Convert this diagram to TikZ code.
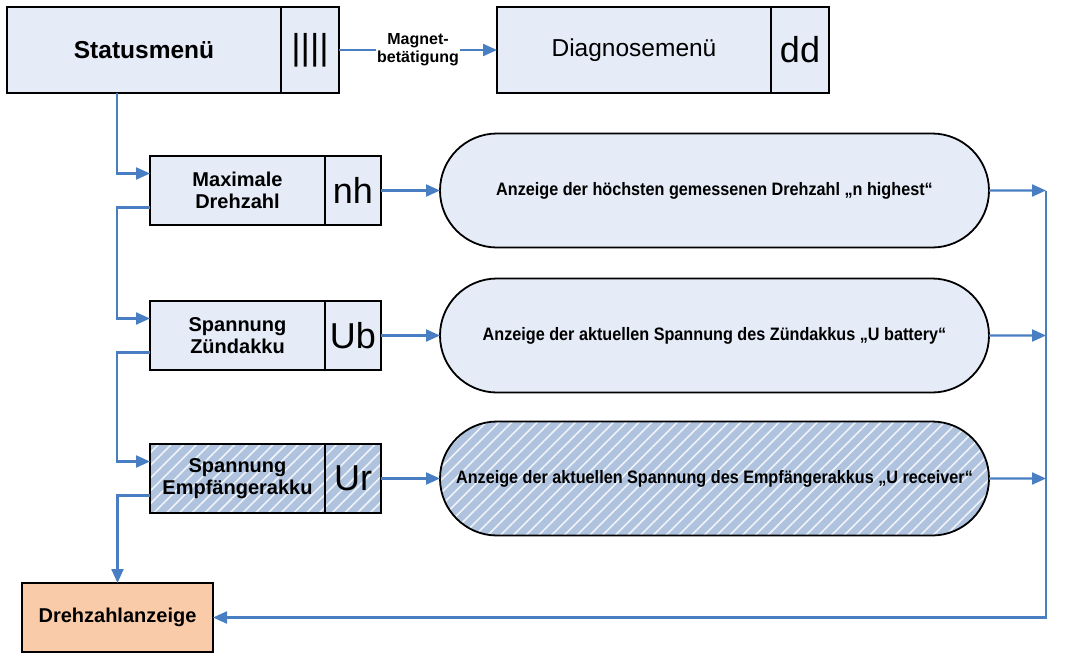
\documentclass[tikz,border=0pt]{standalone}
\usepackage{fontspec}
\setmainfont{Liberation Sans}
\usetikzlibrary{
  arrows.meta,
  positioning,
  shapes.misc,
  patterns.meta
}
\definecolor{dzFill}{HTML}{E5ECF7}
\definecolor{dzHatch}{HTML}{AFC3DF}
\definecolor{dzLine}{HTML}{4A7EC2}
\definecolor{dzOrange}{HTML}{F9CBA9}
\newcommand\dzBig{\fontsize{24.5}{28}\selectfont}
\newcommand\dzTag{\fontsize{36}{40}\selectfont}
\newcommand\dzLabel{\fontsize{20}{22}\selectfont\bfseries}
\newcommand\dzSmall{\fontsize{16}{18}\selectfont\bfseries}
\newcommand\dzTerm{\fontsize{18}{20}\selectfont\bfseries}
\newcommand\dzNarrow[1]{\scalebox{0.9}[1]{#1}}
\tikzset{
  dzbox/.style={
    draw, line width=1.8pt, fill=dzFill, inner sep=0pt, outer sep=0pt, align=center
  },
  menubox/.style={dzbox, minimum width=274pt, minimum height=86pt},
  menutag/.style={dzbox, minimum width=58pt, minimum height=86pt, font=\dzTag},
  subbox/.style={dzbox, minimum width=175pt, minimum height=69pt, font=\dzLabel},
  subtag/.style={dzbox, minimum width=56pt, minimum height=69pt, font=\dzTag},
  terminal/.style={
    dzbox, rounded rectangle, minimum width=549pt, minimum height=114pt, font=\dzTerm
  },
  hatched/.style={
    preaction={fill=dzHatch},
    pattern={Lines[angle=45, distance=9pt, line width=1.6pt]}, pattern color=white!80!dzHatch
  },
  result/.style={dzbox, fill=dzOrange, minimum width=191pt, minimum height=69pt, font=\dzLabel},
  flow/.style={-{Triangle[length=14pt, width=12pt]}, line width=2.2pt, dzLine},
  bus/.style={line width=2.2pt, dzLine},
  tag/.style={font=\dzSmall, text=black, fill=white, inner sep=1pt, align=center}
}
\begin{document}
\begin{tikzpicture}[x=1pt, y=-1pt, node distance=0pt]
  \useasboundingbox (0,0) rectangle (1076,654);
  % Menueebene
  \node[menubox, font=\dzBig\bfseries, anchor=north west] (stat) at (7,7) {Statusmenü};
  \node[menutag, right=of stat] (stattag) {||||};
  \node[menubox, font=\dzBig, anchor=north west] (diag) at (497,7) {Diagnosemenü};
  \node[menutag, right=of diag] (diagtag) {dd};
  % Anzeigen
  \node[subbox, anchor=north west] (maxd) at (150,156) {Maximale\\Drehzahl};
  \node[subtag, right=of maxd] (maxdtag) {nh};
  \node[subbox, anchor=north west] (spzu) at (150,301) {Spannung\\Zündakku};
  \node[subtag, right=of spzu] (spzutag) {Ub};
  \node[subbox, hatched, anchor=north west] (spem) at (150,444) {Spannung\\Empfängerakku};
  \node[subtag, hatched, right=of spem] (spemtag) {Ur};
  \node[terminal] (tmax) at (714.5,190.5) {\dzNarrow{Anzeige der höchsten gemessenen Drehzahl „n highest“}};
  \node[terminal] (tzu) at (714.5,335.5) {\dzNarrow{Anzeige der aktuellen Spannung des Zündakkus „U battery“}};
  \node[terminal, hatched] (tem) at (714.5,478.5) {\dzNarrow{Anzeige der aktuellen Spannung des Empfängerakkus „U receiver“}};
  \node[result, anchor=north west] (dza) at (22,583) {Drehzahlanzeige};
  \coordinate (lx) at (117,0);
  \coordinate (bx) at (1046,0);
  \coordinate (in1) at ([yshift=17pt]maxd.west);
  \coordinate (out1) at ([yshift=-17pt]maxd.west);
  \coordinate (in2) at ([yshift=17pt]spzu.west);
  \coordinate (out2) at ([yshift=-17pt]spzu.west);
  \coordinate (in3) at ([yshift=17pt]spem.west);
  \coordinate (out3) at ([yshift=-17pt]spem.west);
  % Verbindungen
  \draw[flow] (stattag) -- node[tag] {Magnet-\\betätigung} (diag);
  \draw[flow] (stat.south -| lx) |- (in1);
  \draw[flow] (out1) -| (lx |- in2) -- (in2);
  \draw[flow] (out2) -| (lx |- in3) -- (in3);
  \draw[flow] (out3) -| (dza.north);
  \draw[flow] (maxdtag) -- (tmax);
  \draw[flow] (spzutag) -- (tzu);
  \draw[flow] (spemtag) -- (tem);
  \draw[flow] (tmax) -- (bx |- tmax);
  \draw[flow] (tzu) -- (bx |- tzu);
  \draw[flow] (tem) -- (bx |- tem);
  \draw[flow] (bx |- tmax) |- (dza);
\end{tikzpicture}
\end{document}
